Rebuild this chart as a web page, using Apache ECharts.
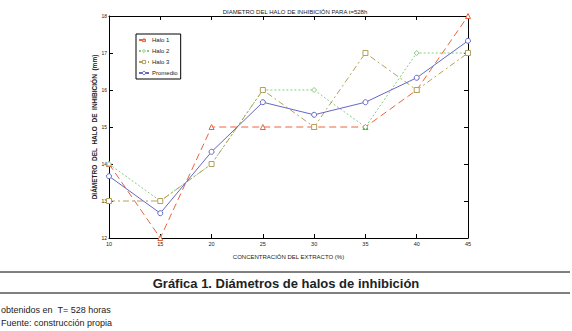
<!DOCTYPE html>
<html>
<head>
<meta charset="utf-8">
<script src="https://cdn.jsdelivr.net/npm/echarts@6/dist/echarts.min.js"></script>
<style>
  html, body { margin: 0; padding: 0; background: #fff; }
  #chart { width: 572px; height: 331px; }
</style>
</head>
<body>
<div id="chart"></div>
<script>
const concentraciones = [10, 15, 20, 25, 30, 35, 40, 45];
const halo1 = [14, 12, 15, 15, 15, 15, 16, 18];
const halo2 = [14, 13, 14, 16, 16, 15, 17, 17];
const halo3 = [13, 13, 14, 16, 15, 17, 16, 17];
const promedio = [13.67, 12.67, 14.33, 15.67, 15.33, 15.67, 16.33, 17.33];

const nombres = ["Halo 1", "Halo 2", "Halo 3", "Promedio"];
const colores = ["#e8643e", "#86cc80", "#b3a15a", "#6468c4"];

const pair = (vals) => concentraciones.map((x, i) => [x, vals[i]]);

const chart = echarts.init(document.getElementById("chart"), null, { renderer: "svg" });

const tinyFont = { fontFamily: "Liberation Sans Narrow, Liberation Sans, Arial", fontSize: 6, color: "#222" };

const boxAxis = {
  axisLine: { show: true, lineStyle: { color: "#000", width: 1 } },
  axisTick: { show: true, inside: true, length: 4, lineStyle: { color: "#000" } },
  splitLine: { show: false },
};

function lineSeries(name, vals, color, dash, symbol) {
  return {
    name,
    type: "line",
    data: pair(vals),
    symbol,
    symbolSize: 5,
    showAllSymbol: true,
    itemStyle: { color: "#fff", borderColor: color, borderWidth: 1 },
    lineStyle: { color, width: 1, type: dash },
    z: 3,
  };
}

chart.setOption({
  animation: false,
  textStyle: tinyFont,
  title: {
    text: "DIAMETRO DEL HALO DE INHIBICIÓN PARA t=528h",
    left: 290,
    textAlign: "center",
    top: 4,
    textStyle: { ...tinyFont, fontWeight: "normal" },
  },
  legend: {
    orient: "vertical",
    left: 136,
    top: 34,
    padding: [3, 3, 3, 2],
    itemWidth: 10,
    itemHeight: 4,
    itemGap: 5,
    borderColor: "#000",
    borderWidth: 1,
    backgroundColor: "#fff",
    textStyle: { ...tinyFont, padding: [0, 0, 0, -2] },
    data: nombres.map((n, i) => ({
      name: n,
      itemStyle: { color: "#fff", borderColor: colores[i], borderWidth: 1 },
    })),
  },
  grid: { left: 109, right: 104, top: 16, bottom: 93 },
  xAxis: [
    {
      ...boxAxis,
      type: "value",
      min: 10,
      max: 45,
      interval: 5,
      name: "CONCENTRACIÓN DEL EXTRACTO (%)",
      nameLocation: "middle",
      nameGap: 16,
      nameTextStyle: { ...tinyFont },
      axisLabel: { ...tinyFont, fontSize: 5.5, margin: 3 },
    },
    {
      ...boxAxis,
      type: "value",
      position: "top",
      min: 10,
      max: 45,
      interval: 5,
      axisLabel: { show: false },
    },
  ],
  yAxis: [
    {
      ...boxAxis,
      type: "value",
      min: 12,
      max: 18,
      interval: 1,
      name: "DIÁMETRO  DEL  HALO  DE  INHIBICIÓN  (mm)",
      nameLocation: "middle",
      nameGap: 11,
      nameMoveOverlap: false,
      nameTextStyle: { ...tinyFont, fontWeight: "bold", fontSize: 6.5 },
      axisLabel: { ...tinyFont, fontSize: 5, margin: 2 },
    },
    {
      ...boxAxis,
      type: "value",
      position: "right",
      min: 12,
      max: 18,
      interval: 1,
      axisLabel: { show: false },
    },
  ],
  series: [
    lineSeries(nombres[0], halo1, colores[0], [7, 4], "triangle"),
    lineSeries(nombres[1], halo2, colores[1], [2, 2], "diamond"),
    lineSeries(nombres[2], halo3, colores[2], [6, 3, 2, 3], "rect"),
    lineSeries(nombres[3], promedio, colores[3], "solid", "circle"),
  ],
  graphic: [
    { type: "line", shape: { x1: 0, y1: 272, x2: 570, y2: 272 }, style: { stroke: "#000", lineWidth: 1 } },
    { type: "line", shape: { x1: 0, y1: 293, x2: 570, y2: 293 }, style: { stroke: "#000", lineWidth: 1 } },
    {
      type: "text",
      x: 286,
      y: 283,
      style: {
        text: "Gráfica 1. Diámetros de halos de inhibición",
        fill: "#222",
        font: "bold 13px Liberation Sans, Arial",
        textAlign: "center",
        textVerticalAlign: "middle",
      },
    },
    {
      type: "text",
      x: 1,
      y: 310,
      style: { text: "obtenidos en  T= 528 horas", fill: "#222", font: "9px Liberation Sans, Arial", textVerticalAlign: "middle" },
    },
    {
      type: "text",
      x: 1,
      y: 323,
      style: { text: "Fuente: construcción propia", fill: "#222", font: "9px Liberation Sans, Arial", textVerticalAlign: "middle" },
    },
  ],
});
</script>
</body>
</html>
